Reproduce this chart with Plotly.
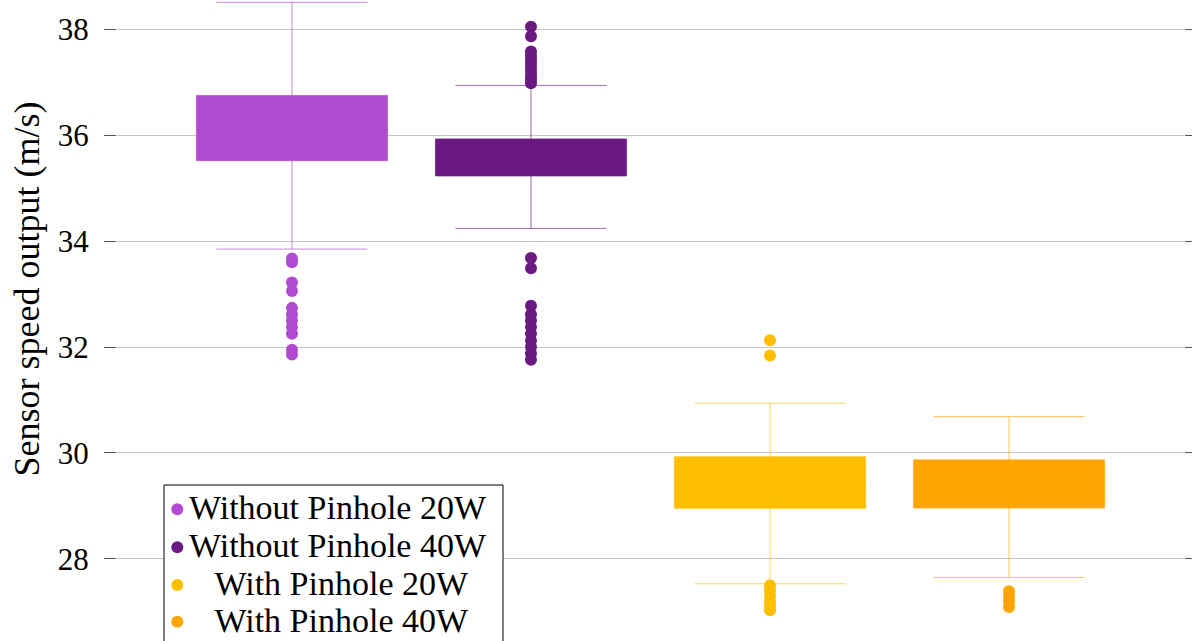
import plotly.graph_objects as go

# ---- data -------------------------------------------------------------
groups = ["Without Pinhole 20W", "Without Pinhole 40W",
          "With Pinhole 20W", "With Pinhole 40W"]
legend_labels = ["Without Pinhole 20W", "Without Pinhole 40W",
                 "\u00a0\u00a0\u00a0With Pinhole 20W", "\u00a0\u00a0\u00a0With Pinhole 40W"]
colors_rgb = [(176, 74, 208), (106, 25, 130), (255, 191, 0), (255, 165, 0)]

upper_whisker = [38.51, 36.94, 30.94, 30.69]
q3 = [36.75, 35.93, 29.93, 29.87]
median = [36.10, 35.55, 29.40, 29.40]
q1 = [35.52, 35.23, 28.955, 28.96]
lower_whisker = [33.85, 34.24, 27.53, 27.65]

outliers_without_20w = [33.67, 33.60, 33.22, 33.06, 32.74, 32.62, 32.50,
                        32.38, 32.25, 31.95, 31.86]
outliers_without_40w = [38.05, 37.87, 37.58, 37.50, 37.42, 37.35, 37.28,
                        37.20, 37.12, 37.05, 36.98,
                        33.68, 33.49, 32.78, 32.62, 32.50, 32.38, 32.25,
                        32.12, 32.00, 31.88, 31.76]
outliers_with_20w = [32.13, 31.84, 27.50, 27.40, 27.30, 27.20, 27.12, 27.03]
outliers_with_40w = [27.39, 27.30, 27.20, 27.09]
outliers = [outliers_without_20w, outliers_without_40w,
            outliers_with_20w, outliers_with_40w]

y_ticks = [28, 30, 32, 34, 36, 38]

# ---- geometry -----------------------------------------------------------
W, H = 1192, 641
ML, MR, MT, MB = 117, 8, 0, 0
PW, PH = W - ML - MR, H - MT - MB
FONT = "Liberation Serif"


def px_x(px):
    return (px - ML) / PW


def px_y(px):
    return 1 - (px - MT) / PH


def rgb(c, a=1.0):
    return f"rgba({c[0]},{c[1]},{c[2]},{a})"


fig = go.Figure()

for i, name in enumerate(groups):
    c = colors_rgb[i]
    fig.add_trace(go.Box(
        x=[name], q1=[q1[i]], median=[median[i]], q3=[q3[i]],
        lowerfence=[lower_whisker[i]], upperfence=[upper_whisker[i]],
        name=name, width=0.8, whiskerwidth=0.79,
        fillcolor=rgb(c), line=dict(color=rgb(c, 0.65), width=1),
        boxpoints=False, showlegend=False,
    ))
    fig.add_trace(go.Scatter(
        x=[name] * len(outliers[i]), y=outliers[i], mode="markers",
        marker=dict(color=rgb(c), size=12, line=dict(width=0)),
        showlegend=False, name=name,
    ))

# ---- legend box ----------------------------------------------------------
shapes = [dict(type="rect", xref="paper", yref="paper",
               x0=px_x(164), x1=px_x(503), y0=px_y(700), y1=px_y(485),
               line=dict(color="black", width=1), fillcolor="white",
               layer="above")]
annotations = []
row_y = [509.3, 547.3, 585.0, 621.7]
for i, lab in enumerate(legend_labels):
    shapes.append(dict(type="circle", xref="paper", yref="paper",
                       xsizemode="pixel", ysizemode="pixel",
                       xanchor=px_x(177.3), yanchor=px_y(row_y[i]),
                       x0=-6, x1=6, y0=-6, y1=6,
                       fillcolor=rgb(colors_rgb[i]), line=dict(width=0),
                       layer="above"))
    annotations.append(dict(xref="paper", yref="paper",
                            x=px_x(187), y=px_y(row_y[i] - 1.5),
                            xanchor="left", yanchor="middle", showarrow=False,
                            text=lab, font=dict(family=FONT, size=34, color="black")))

# y-axis title
annotations.append(dict(xref="paper", yref="paper", x=px_x(26), y=px_y(289.5),
                        xanchor="center", yanchor="middle", showarrow=False,
                        textangle=-90, text="Sensor speed output (m/s)",
                        font=dict(family=FONT, size=36, color="black")))

fig.update_layout(
    width=W, height=H,
    margin=dict(l=ML, r=MR, t=MT, b=MB, autoexpand=False),
    paper_bgcolor="white", plot_bgcolor="white",
    boxmode="overlay",
    showlegend=False,
    shapes=shapes, annotations=annotations,
    font=dict(family=FONT, color="black"),
    xaxis=dict(type="category", categoryorder="array", categoryarray=groups,
               range=[-0.732, 3.732], showticklabels=False, showgrid=False,
               zeroline=False, showline=False, ticks=""),
    yaxis=dict(range=[26.45, 38.553], tickvals=y_ticks,
               ticktext=[str(t) for t in y_ticks],
               showgrid=True, gridcolor="#c4c4c4", gridwidth=1,
               zeroline=False, showline=False,
               ticks="outside", ticklen=12, tickwidth=1, tickcolor="#555555",
               mirror="ticks", ticklabelstandoff=9,
               tickfont=dict(family=FONT, size=31, color="black")),
)

fig.write_html("out.html", config={"displayModeBar": False})
